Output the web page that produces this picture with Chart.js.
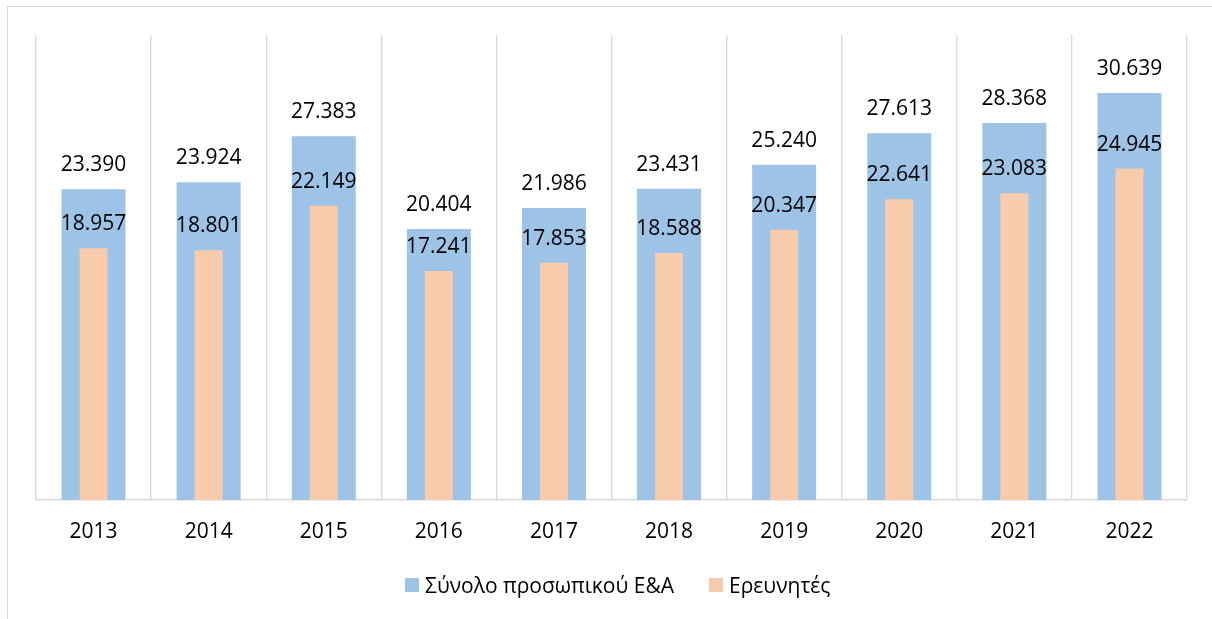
<!DOCTYPE html>
<html>
<head>
<meta charset="utf-8">
<script src="https://cdn.jsdelivr.net/npm/chart.js@4"></script>
<style>
  body { margin: 0; background: #fff; }
  #wrap { position: relative; width: 1212px; height: 619px; overflow: hidden; }
  #frame { position: absolute; left: 7px; top: 6px; width: 1300px; height: 700px;
           border-left: 1px solid #d9d9d9; border-top: 1px solid #d9d9d9; }
  #chart { position: absolute; left: 0; top: 0; }
  #legend { position: absolute; left: 405px; top: 571px; display: flex; align-items: center;
            font-family: "Open Sans", sans-serif; font-size: 21px; color: #000; }
  #legend .item { display: flex; align-items: center; margin-right: 35px; }
  #legend .box { width: 14px; height: 14px; margin-right: 6px; }
</style>
</head>
<body>
<div id="wrap">
  <div id="frame"></div>
  <canvas id="chart" width="1212" height="619"></canvas>
  <div id="legend"></div>
</div>
<script>
const years = ["2013", "2014", "2015", "2016", "2017", "2018", "2019", "2020", "2021", "2022"];
const totalStaff = [23390, 23924, 27383, 20404, 21986, 23431, 25240, 27613, 28368, 30639];
const researchers = [18957, 18801, 22149, 17241, 17853, 18588, 20347, 22641, 23083, 24945];
const seriesNames = ["Σύνολο προσωπικού Ε&Α", "Ερευνητές"];
const colors = ["#9dc3e6", "#f8cbad"];

const fmt = n => String(n).replace(/\B(?=(\d{3})+(?!\d))/g, ".");

// value labels above every bar
const barLabels = {
    id: "barLabels",
    afterDatasetsDraw(chart) {
        const ctx = chart.ctx;
        ctx.save();
        ctx.font = '21px "Open Sans", sans-serif';
        ctx.fillStyle = "#000";
        ctx.textAlign = "center";
        ctx.textBaseline = "middle";
        chart.data.datasets.forEach((ds, i) => {
            chart.getDatasetMeta(i).data.forEach((bar, j) => {
                ctx.fillText(fmt(ds.data[j]), bar.x, bar.y - 24);
            });
        });
        ctx.restore();
    }
};

new Chart(document.getElementById("chart"), {
    type: "bar",
    data: {
        labels: years,
        datasets: [
            {
                label: seriesNames[0],
                data: totalStaff,
                backgroundColor: colors[0],
                grouped: false,
                categoryPercentage: 1,
                barPercentage: 0.556,
                order: 2
            },
            {
                label: seriesNames[1],
                data: researchers,
                backgroundColor: colors[1],
                grouped: false,
                categoryPercentage: 1,
                barPercentage: 0.243,
                order: 1
            }
        ]
    },
    options: {
        responsive: false,
        animation: false,
        layout: { padding: { left: 36, right: 25, top: 35, bottom: 59 } },
        plugins: {
            legend: { display: false },
            tooltip: { enabled: false }
        },
        scales: {
            x: {
                afterFit: s => { s.height = 60; },
                grid: { color: "#d9d9d9", offset: true, drawTicks: false, lineWidth: 1.3 },
                border: { color: "#d9d9d9", width: 1.5 },
                ticks: { color: "#000", padding: 19, font: { family: "Open Sans", size: 21 } }
            },
            y: {
                display: false,
                min: 0,
                max: 35000
            }
        }
    },
    plugins: [barLabels]
});

let legend = document.getElementById("legend");
seriesNames.forEach((name, i) => {
    legend.innerHTML += `<div class="item"><span class="box" style="background:${colors[i]}"></span><span>${name}</span></div>`;
});
</script>
</body>
</html>
